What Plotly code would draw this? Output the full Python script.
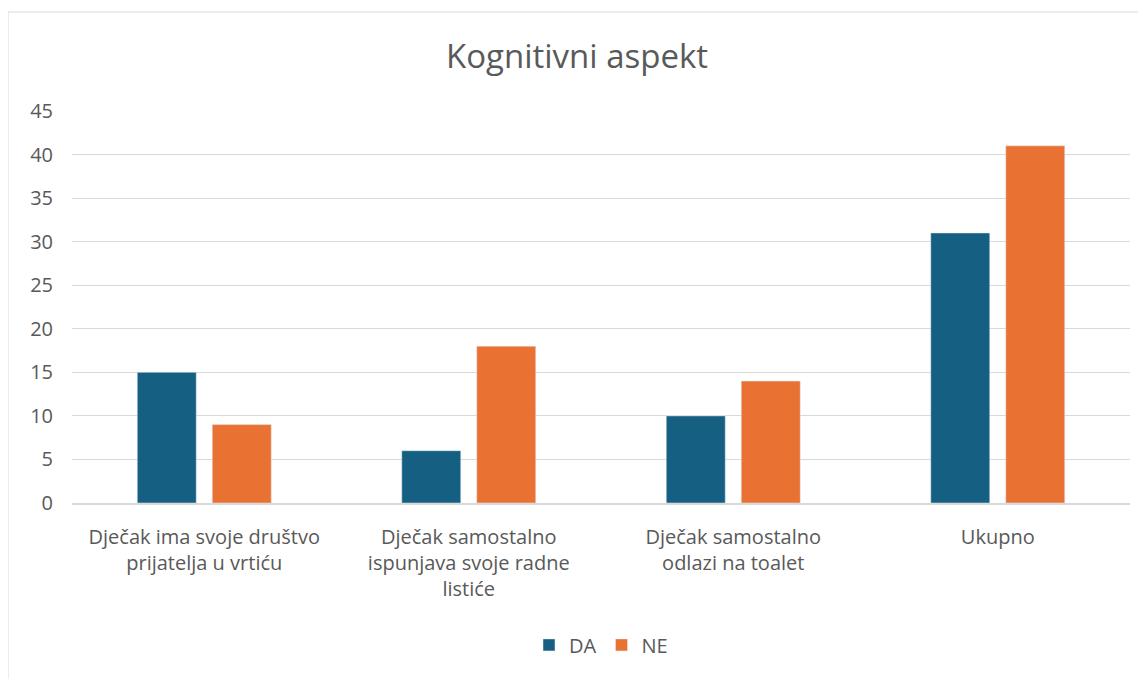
import plotly.graph_objects as go

categories = [
    "Dječak ima svoje društvo<br>prijatelja u vrtiću",
    "Dječak samostalno<br>ispunjava svoje radne<br>listiće",
    "Dječak samostalno<br>odlazi na toalet",
    "Ukupno",
]
da_values = [15, 6, 10, 31]
ne_values = [9, 18, 14, 41]
y_ticks = [0, 5, 10, 15, 20, 25, 30, 35, 40, 45]

FONT = "Open Sans"
TXT = "#595959"

fig = go.Figure()
fig.add_trace(go.Bar(name="DA", x=categories, y=da_values, marker_color="#156082"))
fig.add_trace(go.Bar(name="NE", x=categories, y=ne_values, marker_color="#E97132"))

fig.update_layout(
    width=1138, height=671,
    margin=dict(l=64, r=16, t=103, b=176),
    paper_bgcolor="white", plot_bgcolor="white",
    barmode="group", bargap=0.433, bargroupgap=0.213,
    font=dict(family=FONT, color=TXT, size=20),
    title=dict(text="Kognitivni aspekt", x=0.5, xanchor="center", y=0.928, yanchor="middle",
               font=dict(family=FONT, size=33, color=TXT)),
    legend=dict(orientation="h", x=0.5, xanchor="center", y=-0.362, yanchor="middle",
                font=dict(family=FONT, size=20, color=TXT), itemwidth=30, traceorder="normal"),
    showlegend=True,
)
fig.update_yaxes(range=[0, 45], tickvals=y_ticks, showgrid=True, gridcolor="#d9d9d9",
                 gridwidth=1, zeroline=False, showline=False, ticks="",
                 tickfont=dict(family=FONT, size=20, color=TXT), ticklabelstandoff=18)
fig.update_xaxes(showline=True, linecolor="#d9d9d9", linewidth=1.5, ticks="",
                 tickfont=dict(family=FONT, size=20, color=TXT), ticklabelstandoff=15)

fig.add_shape(type="rect", xref="paper", yref="paper", x0=-0.0605, x1=1.05, y0=-0.6, y1=1.2526,
              line=dict(color="#d9d9d9", width=1), fillcolor="rgba(0,0,0,0)", layer="below")

fig.write_html("out.html")
